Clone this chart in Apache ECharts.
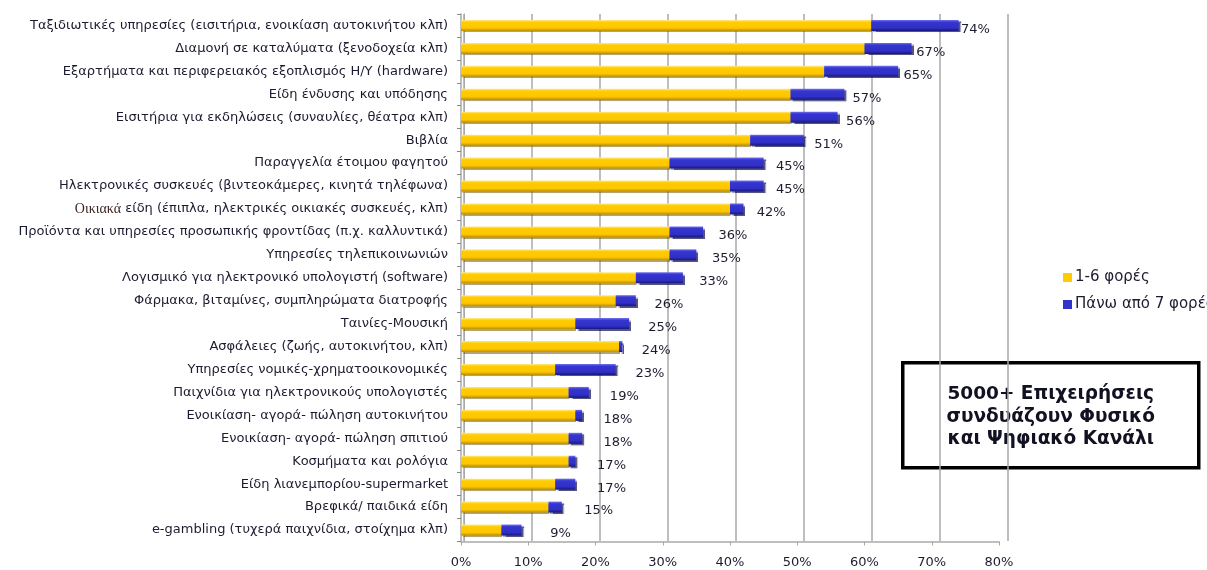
<!DOCTYPE html>
<html>
<head>
<meta charset="utf-8">
<script src="https://cdn.jsdelivr.net/npm/echarts@6/dist/echarts.min.js"></script>
<style>
  html, body { margin: 0; padding: 0; background: #ffffff; }
  #chart { width: 1207px; height: 570px; }
</style>
</head>
<body>
<div id="chart"></div>
<script>
// Product categories bought online, top to bottom
const categories = [
  'Ταξιδιωτικές υπηρεσίες (εισιτήρια, ενοικίαση αυτοκινήτου κλπ)',
  'Διαμονή σε καταλύματα (ξενοδοχεία κλπ)',
  'Εξαρτήματα και περιφερειακός εξοπλισμός Η/Υ (hardware)',
  'Είδη ένδυσης και υπόδησης',
  'Εισιτήρια για εκδηλώσεις (συναυλίες, θέατρα κλπ)',
  'Βιβλία',
  'Παραγγελία έτοιμου φαγητού',
  'Ηλεκτρονικές συσκευές (βιντεοκάμερες, κινητά τηλέφωνα)',
  'Οικιακά είδη (έπιπλα, ηλεκτρικές οικιακές συσκευές, κλπ)',
  'Προϊόντα και υπηρεσίες προσωπικής φροντίδας (π.χ. καλλυντικά)',
  'Υπηρεσίες τηλεπικοινωνιών',
  'Λογισμικό για ηλεκτρονικό υπολογιστή (software)',
  'Φάρμακα, βιταμίνες, συμπληρώματα διατροφής',
  'Ταινίες-Μουσική',
  'Ασφάλειες (ζωής, αυτοκινήτου, κλπ)',
  'Υπηρεσίες νομικές-χρηματοοικονομικές',
  'Παιχνίδια για ηλεκτρονικούς υπολογιστές',
  'Ενοικίαση- αγορά- πώληση αυτοκινήτου',
  'Ενοικίαση- αγορά- πώληση σπιτιού',
  'Κοσμήματα και ρολόγια',
  'Είδη λιανεμπορίου-supermarket',
  'Βρεφικά/ παιδικά είδη',
  'e-gambling (τυχερά παιχνίδια, στοίχημα κλπ)'
];

// Share of businesses buying 1-6 times (%)
const times1to6 = [61, 60, 54, 49, 49, 43, 31, 40, 40, 31, 31, 26, 23, 17, 23.5, 14, 16, 17, 16, 16, 14, 13, 6];
// Share of businesses buying 7 times or more (%)
const times7plus = [13, 7, 11, 8, 7, 8, 14, 5, 2, 5, 4, 7, 3, 8, 0.5, 9, 3, 1, 2, 1, 3, 2, 3];
// Total shown at the end of each bar (%)
const totals = [74, 67, 65, 57, 56, 51, 45, 45, 42, 36, 35, 33, 26, 25, 24, 23, 19, 18, 18, 17, 17, 15, 9];

const seriesNames = ['1-6 φορές', 'Πάνω από 7 φορές'];
const boxLines = ['5000+ Επιχειρήσεις', 'συνδυάζουν Φυσικό', 'και Ψηφιακό Κανάλι'];

const FONT = '"DejaVu Sans", Verdana, sans-serif';
const TEXT = '#1c1c30';
const GRID_LINE = '#a9a9a9';

function vgrad(stops) {
  return new echarts.graphic.LinearGradient(0, 0, 0, 1,
    stops.map(s => ({ offset: s[0], color: s[1] })));
}

const yellowFill = vgrad([[0, '#ffe98a'], [0.2, '#ffcc00'], [0.72, '#ffc600'], [1, '#b98f00']]);
const blueFill = vgrad([[0, '#7373f2'], [0.2, '#3535d0'], [0.72, '#3030c6'], [1, '#17177a']]);

const chart = echarts.init(document.getElementById('chart'), null, { renderer: 'canvas' });

chart.setOption({
  animation: false,
  backgroundColor: '#ffffff',
  textStyle: { fontFamily: FONT },
  grid: [
    // front plane: bars, category labels and the percent scale
    { left: 461, right: 208, top: 14, bottom: 28.5 },
    // back wall: vertical gridlines set slightly behind the bars
    { left: 464, right: 199, top: 14, bottom: 29 }
  ],
  legend: {
    orient: 'vertical',
    left: 1058,
    top: 265,
    itemWidth: 9,
    itemHeight: 9,
    itemGap: 12,
    icon: 'rect',
    textStyle: { fontFamily: FONT, fontSize: 15, color: TEXT, padding: [0, 0, 0, -2] },
    data: [
      { name: seriesNames[0], itemStyle: { color: '#ffcc00' } },
      { name: seriesNames[1], itemStyle: { color: '#3333cc' } }
    ]
  },
  xAxis: [
    {
      gridIndex: 0,
      type: 'value',
      min: 0,
      max: 80,
      interval: 10,
      axisLine: { show: true, lineStyle: { color: GRID_LINE, width: 1.5 } },
      axisTick: { show: true, length: 4, lineStyle: { color: GRID_LINE } },
      splitLine: { show: false },
      axisLabel: {
        formatter: '{value}%',
        fontFamily: FONT,
        fontSize: 13,
        color: TEXT,
        margin: 15
      }
    },
    {
      gridIndex: 1,
      type: 'value',
      min: 0,
      max: 80,
      interval: 10,
      axisLine: { show: false },
      axisTick: { show: false },
      axisLabel: { show: false },
      splitLine: { show: true, lineStyle: { color: GRID_LINE, width: 1.5 } }
    }
  ],
  yAxis: [
    {
      gridIndex: 0,
      type: 'category',
      inverse: true,
      data: categories,
      axisLine: { show: true, lineStyle: { color: GRID_LINE, width: 1.5 } },
      axisTick: { show: true, length: 4, inside: false, lineStyle: { color: '#888888' } },
      axisLabel: {
        fontFamily: FONT,
        fontSize: 13,
        color: TEXT,
        margin: 13,
        formatter: function (v) {
          if (v.indexOf('Οικιακά ') === 0) {
            return '{serif|Οικιακά} ' + v.slice('Οικιακά '.length);
          }
          return v;
        },
        rich: {
          serif: { fontFamily: '"Liberation Serif", serif', fontSize: 14, color: '#3a2420' }
        }
      }
    },
    {
      gridIndex: 1,
      type: 'category',
      inverse: true,
      data: categories,
      axisLine: { show: true, lineStyle: { color: GRID_LINE, width: 1 } },
      axisTick: { show: false },
      axisLabel: { show: false }
    }
  ],
  series: [
    {
      name: seriesNames[0],
      type: 'bar',
      stack: 'share',
      xAxisIndex: 0,
      yAxisIndex: 0,
      barWidth: 11,
      data: times1to6,
      itemStyle: {
        color: yellowFill,
        shadowColor: 'rgba(120, 90, 0, 0.55)',
        shadowOffsetX: 1,
        shadowOffsetY: 1.5,
        shadowBlur: 1
      }
    },
    {
      name: seriesNames[1],
      type: 'bar',
      stack: 'share',
      xAxisIndex: 0,
      yAxisIndex: 0,
      barWidth: 11,
      data: times7plus.map(function (v, i) {
        // the total label sits a little right of the bar end, drifting in for long bars
        return {
          value: v,
          label: { offset: [42 - 0.34 * totals[i], 4] }
        };
      }),
      itemStyle: {
        color: blueFill,
        shadowColor: 'rgba(10, 10, 80, 0.7)',
        shadowOffsetX: 2,
        shadowOffsetY: 1.5,
        shadowBlur: 1
      },
      label: {
        show: true,
        position: 'right',
        distance: 0,
        align: 'center',
        fontFamily: FONT,
        fontSize: 13,
        color: TEXT,
        formatter: function (p) { return totals[p.dataIndex] + '%'; }
      }
    }
  ],
  graphic: [
    {
      type: 'group',
      left: 901,
      top: 361,
      children: [
        {
          type: 'rect',
          shape: { x: 0, y: 0, width: 296, height: 105 },
          style: { fill: '#ffffff', stroke: '#000000', lineWidth: 3.5 }
        },
        {
          type: 'text',
          x: 148,
          y: 54,
          style: {
            text: boxLines.join('\n'),
            fontFamily: '"DejaVu Sans", sans-serif',
            fontWeight: 'bold',
            fontSize: 18.5,
            lineHeight: 22.5,
            fill: '#111122',
            align: 'center',
            verticalAlign: 'middle'
          }
        }
      ]
    }
  ]
});
</script>
</body>
</html>
